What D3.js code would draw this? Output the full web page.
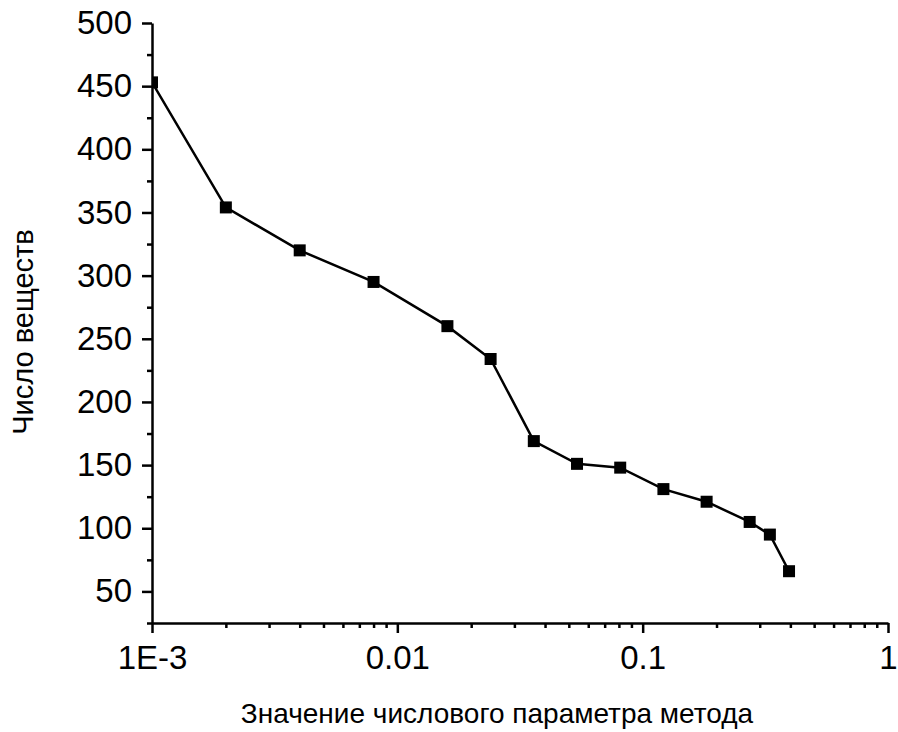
<!DOCTYPE html>
<html>
<head>
<meta charset="utf-8">
<script src="https://cdn.jsdelivr.net/npm/d3@7"></script>
<style>
  html, body { margin: 0; padding: 0; background: #fff; }
  svg { display: block; font-family: "Liberation Sans", Arial, sans-serif; }
</style>
</head>
<body>
<svg id="chart" width="898" height="732"></svg>
<script>
// Parameter values of the method and the resulting number of substances
const paramValues = [0.001, 0.002, 0.004, 0.008, 0.016, 0.024, 0.036, 0.054, 0.081, 0.1215, 0.18225, 0.273, 0.33, 0.395];
const substanceCounts = [453, 354, 320, 295, 260, 234, 169, 151, 148, 131, 121, 105, 95, 66];

const xMajorTicks = [0.001, 0.01, 0.1, 1];
const xTickLabels = ["1E-3", "0.01", "0.1", "1"];
const yMajorTicks = [50, 100, 150, 200, 250, 300, 350, 400, 450, 500];
const yMinorTicks = [25, 75, 125, 175, 225, 275, 325, 375, 425, 475];

const xTitle = "Значение числового параметра метода";
const yTitle = "Число веществ";

const svg = d3.select("#chart");
const plotLeft = 152, plotRight = 888, plotTop = 23, plotBottom = 623;

const x = d3.scaleLog().domain([0.001, 1]).range([plotLeft, plotRight]);
const y = d3.scaleLinear().domain([25, 500]).range([plotBottom, plotTop]);

// minor log ticks: 2..9 within each decade
const xMinorTicks = [];
for (let d = 0.001; d < 1; d *= 10) {
  for (let k = 2; k <= 9; k++) xMinorTicks.push(+(d * k).toPrecision(3));
}

const fontSize = 33;
const strokeW = 2.5;

// minor ticks (no labels)
svg.append("g")
  .attr("transform", `translate(0,${plotBottom})`)
  .call(d3.axisBottom(x).tickValues(xMinorTicks).tickSize(5).tickFormat(""))
  .call(g => g.select(".domain").remove());
svg.append("g")
  .attr("transform", `translate(${plotLeft},0)`)
  .call(d3.axisLeft(y).tickValues(yMinorTicks).tickSize(5).tickFormat(""))
  .call(g => g.select(".domain").remove());

// major axes
svg.append("g")
  .attr("transform", `translate(0,${plotBottom})`)
  .call(d3.axisBottom(x).tickValues(xMajorTicks).tickSize(10).tickSizeOuter(0).tickPadding(13)
    .tickFormat((d, i) => xTickLabels[i]));
svg.append("g")
  .attr("transform", `translate(${plotLeft},0)`)
  .call(d3.axisLeft(y).tickValues(yMajorTicks).tickSize(10).tickSizeOuter(0).tickPadding(10));

svg.selectAll(".tick line").attr("stroke", "#000").attr("stroke-width", strokeW);
svg.selectAll(".domain").attr("stroke", "#000").attr("stroke-width", strokeW);
svg.selectAll(".tick text")
  .attr("font-family", "'Liberation Sans', Arial, sans-serif")
  .attr("font-size", fontSize)
  .attr("fill", "#000");

// clip data marks to the plotting area
svg.append("clipPath").attr("id", "plot-clip")
  .append("rect").attr("x", plotLeft).attr("y", plotTop - 10)
  .attr("width", plotRight - plotLeft + 10).attr("height", plotBottom - plotTop + 10);

const data = paramValues.map((v, i) => ({ x: v, y: substanceCounts[i] }));
const plot = svg.append("g").attr("clip-path", "url(#plot-clip)");

plot.append("path")
  .datum(data)
  .attr("fill", "none")
  .attr("stroke", "#000")
  .attr("stroke-width", strokeW)
  .attr("d", d3.line().x(d => x(d.x)).y(d => y(d.y)));

const ms = 12;
plot.selectAll("rect.marker")
  .data(data)
  .join("rect")
  .attr("class", "marker")
  .attr("x", d => x(d.x) - ms / 2)
  .attr("y", d => y(d.y) - ms / 2)
  .attr("width", ms)
  .attr("height", ms)
  .attr("fill", "#000");

// axis titles
svg.append("text")
  .attr("x", 497).attr("y", 723)
  .attr("text-anchor", "middle")
  .attr("font-size", 28)
  .attr("fill", "#000")
  .text(xTitle);

svg.append("text")
  .attr("transform", "translate(33,332) rotate(-90)")
  .attr("text-anchor", "middle")
  .attr("font-size", 29)
  .attr("fill", "#000")
  .text(yTitle);
</script>
</body>
</html>
